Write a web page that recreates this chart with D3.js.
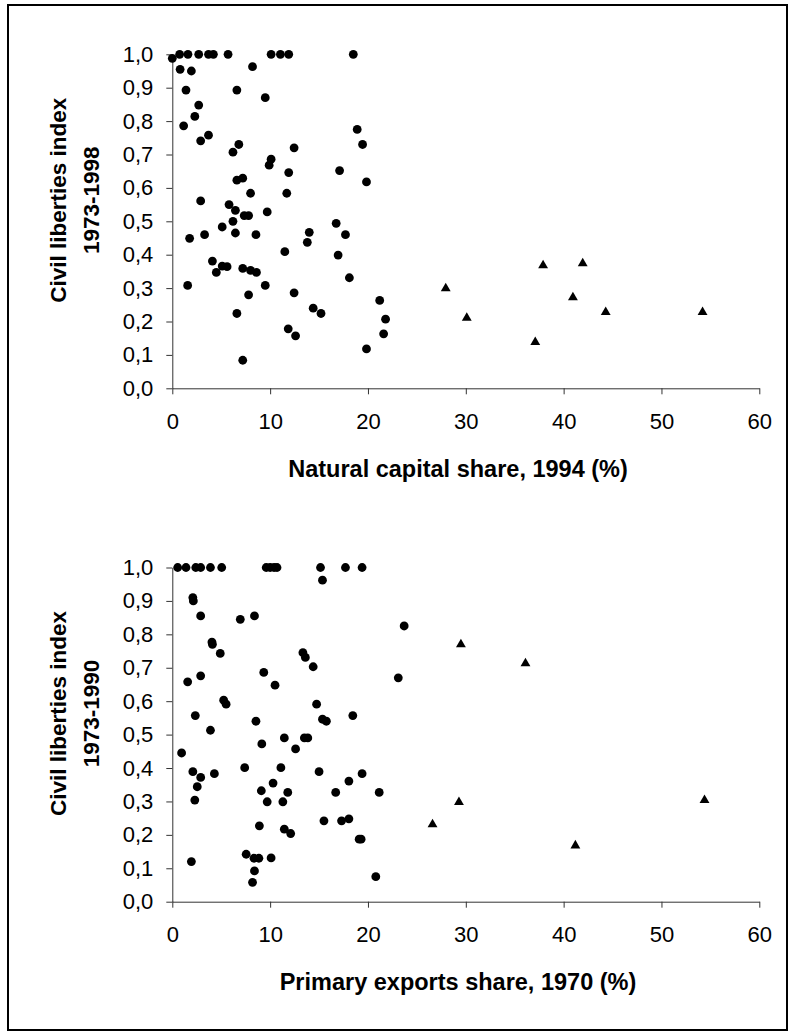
<!DOCTYPE html>
<html>
<head>
<meta charset="utf-8">
<script src="https://cdn.jsdelivr.net/npm/d3@7"></script>
<style>
  body { margin: 0; background: #fff; }
  text { font-family: "Liberation Sans", Arial, sans-serif; }
</style>
</head>
<body>
<div id="chart"></div>
<script>
// top panel: natural capital share 1994 vs civil liberties 1973-1998
const natDotX = [0.75, 1.6, 2.7, 3.7, 4.2, 5.7, 10.1, 11.05, 11.9, 18.5,
  0.0, 0.8, 1.95, 8.2, 1.4, 6.6, 9.5, 2.7, 2.3, 1.16, 18.9, 3.7, 2.9,
  6.8, 6.2, 12.45, 19.45, 10.1, 9.9, 11.9, 17.1, 6.6, 7.2, 19.85,
  8.0, 11.7, 2.9, 5.8, 6.45, 7.35, 7.8, 9.7, 6.2, 5.1,
  6.45, 8.55, 3.3, 1.77, 16.75, 14.0, 13.8, 17.7, 11.5, 16.95,
  4.1, 5.1, 5.6, 4.5, 7.2, 8.0, 8.6, 18.1, 1.57, 9.5, 7.8, 12.45, 21.2,
  14.4, 15.2, 6.6, 21.8, 11.85, 12.6, 21.6, 19.85, 7.2];
const natDotY = [1, 1, 1, 1, 1, 1, 1, 1, 1, 1,
  0.988, 0.955, 0.95, 0.963, 0.893, 0.893, 0.87, 0.848, 0.814, 0.786, 0.775, 0.758, 0.741,
  0.73, 0.707, 0.72, 0.73, 0.686, 0.668, 0.646, 0.652, 0.623, 0.629, 0.618,
  0.584, 0.584, 0.561, 0.55, 0.533, 0.517, 0.517, 0.528, 0.5, 0.483,
  0.465, 0.46, 0.46, 0.449, 0.494, 0.467, 0.437, 0.46, 0.409, 0.399,
  0.381, 0.366, 0.364, 0.347, 0.359, 0.353, 0.347, 0.331, 0.308, 0.308, 0.28, 0.286, 0.263,
  0.24, 0.224, 0.224, 0.207, 0.178, 0.157, 0.163, 0.118, 0.084];
const natTriX = [27.95, 30.1, 37.9, 41.95, 40.95, 44.3, 37.1, 54.2];
const natTriY = [0.299, 0.211, 0.368, 0.374, 0.272, 0.228, 0.138, 0.228];

// bottom panel: primary exports share 1970 vs civil liberties 1973-1990
const expDotX = [0.55, 1.4, 2.4, 2.9, 3.9, 5.05, 9.6, 10.0, 10.4, 10.7, 15.15, 17.7, 19.4,
  15.35, 2.1, 2.15, 2.9, 6.95, 8.4,
  4.05, 4.1, 4.9, 13.35, 13.6, 14.4,
  23.7, 23.1, 1.57, 2.9, 9.35, 10.5,
  5.25, 5.5, 14.75, 2.35, 8.55, 15.35, 15.75, 18.45,
  3.9, 11.45, 13.5, 13.85, 9.15, 12.6, 0.95,
  7.4, 11.1, 2.1, 2.9, 4.3, 15.0, 19.4, 18.05,
  2.55, 10.3, 9.1, 11.8, 16.7, 21.15,
  2.3, 9.7, 11.3,
  8.9, 11.45, 12.1, 15.5, 17.3, 18.05,
  19.1, 19.3,
  1.95, 7.55, 8.35, 8.85, 10.1, 8.4, 8.2, 20.8];
const expDotY = [1, 1, 1, 1, 1, 1, 1, 1, 1, 1, 1, 1, 1,
  0.962, 0.91, 0.9, 0.855, 0.845, 0.855,
  0.777, 0.77, 0.743, 0.745, 0.731, 0.703,
  0.825, 0.67, 0.658, 0.676, 0.686, 0.648,
  0.603, 0.591, 0.591, 0.557, 0.54, 0.546, 0.54, 0.557,
  0.513, 0.49, 0.49, 0.49, 0.472, 0.457, 0.445,
  0.401, 0.401, 0.389, 0.372, 0.383, 0.389, 0.383, 0.361,
  0.344, 0.355, 0.332, 0.327, 0.327, 0.327,
  0.304, 0.299, 0.299,
  0.227, 0.217, 0.204, 0.242, 0.242, 0.248,
  0.187, 0.187,
  0.12, 0.142, 0.13, 0.13, 0.131, 0.092, 0.058, 0.075];
const expTriX = [29.5, 36.1, 29.3, 26.6, 54.4, 41.2];
const expTriY = [0.77, 0.713, 0.298, 0.231, 0.304, 0.168];

const xTicks = [0, 10, 20, 30, 40, 50, 60];
const yTicks = [0, 0.1, 0.2, 0.3, 0.4, 0.5, 0.6, 0.7, 0.8, 0.9, 1.0];
const yTickLabels = ["0,0", "0,1", "0,2", "0,3", "0,4", "0,5", "0,6", "0,7", "0,8", "0,9", "1,0"];

const width = 795, height = 1032;

const svg = d3.select("#chart").append("svg")
  .attr("width", width)
  .attr("height", height);

// frame around the whole figure
svg.append("rect")
  .attr("x", 8).attr("y", 5)
  .attr("width", 779).attr("height", 1025)
  .attr("fill", "none")
  .attr("stroke", "#000")
  .attr("stroke-width", 2);

const x = d3.scaleLinear().domain([0, 60]).range([172.3, 759.3]);

function drawPanel(top, bottom, dotX, dotY, triX, triY, xTitle, yTitle1, yTitle2) {
  const y = d3.scaleLinear().domain([0, 1]).range([bottom, top]);
  const g = svg.append("g");

  const xAxis = g.append("g")
    .attr("transform", `translate(0,${bottom})`)
    .call(d3.axisBottom(x).tickValues(xTicks).tickSize(6).tickSizeOuter(0).tickPadding(19));
  const yAxis = g.append("g")
    .attr("transform", `translate(${x(0)},0)`)
    .call(d3.axisLeft(y).tickValues(yTicks).tickSize(6).tickSizeOuter(0).tickPadding(13)
      .tickFormat((d, i) => yTickLabels[i]));

  [xAxis, yAxis].forEach(a => {
    a.selectAll("path, line").attr("stroke", "#333").attr("stroke-width", 1);
    a.selectAll("text")
      .attr("font-family", "'Liberation Sans', Arial, sans-serif")
      .attr("font-size", 22)
      .attr("fill", "#000");
  });

  const dots = d3.range(dotX.length).map(i => ({ x: dotX[i], y: dotY[i] }));
  g.append("g").selectAll("circle")
    .data(dots)
    .join("circle")
    .attr("cx", d => x(d.x))
    .attr("cy", d => y(d.y))
    .attr("r", 4.4)
    .attr("fill", "#000");

  const tris = d3.range(triX.length).map(i => ({ x: triX[i], y: triY[i] }));
  const tri = d3.symbol().type(d3.symbolTriangle).size(42);
  g.append("g").selectAll("path")
    .data(tris)
    .join("path")
    .attr("d", tri)
    .attr("transform", d => `translate(${x(d.x)},${y(d.y)})`)
    .attr("fill", "#000");

  g.append("text")
    .attr("x", 458)
    .attr("y", bottom + 80)
    .attr("dy", "0.35em")
    .attr("text-anchor", "middle")
    .attr("font-weight", "bold")
    .attr("font-size", 23.5)
    .text(xTitle);

  const cy = top + 146;
  g.append("text")
    .attr("transform", `translate(58,${cy}) rotate(-90)`)
    .attr("dy", "0.35em")
    .attr("text-anchor", "middle")
    .attr("font-weight", "bold")
    .attr("font-size", 22.5)
    .text(yTitle1);
  g.append("text")
    .attr("transform", `translate(91,${cy}) rotate(-90)`)
    .attr("dy", "0.35em")
    .attr("text-anchor", "middle")
    .attr("font-weight", "bold")
    .attr("font-size", 22.5)
    .text(yTitle2);
}

drawPanel(54.3, 388.3, natDotX, natDotY, natTriX, natTriY,
  "Natural capital share, 1994 (%)", "Civil liberties index", "1973-1998");
drawPanel(567.5, 901.7, expDotX, expDotY, expTriX, expTriY,
  "Primary exports share, 1970 (%)", "Civil liberties index", "1973-1990");
</script>
</body>
</html>
